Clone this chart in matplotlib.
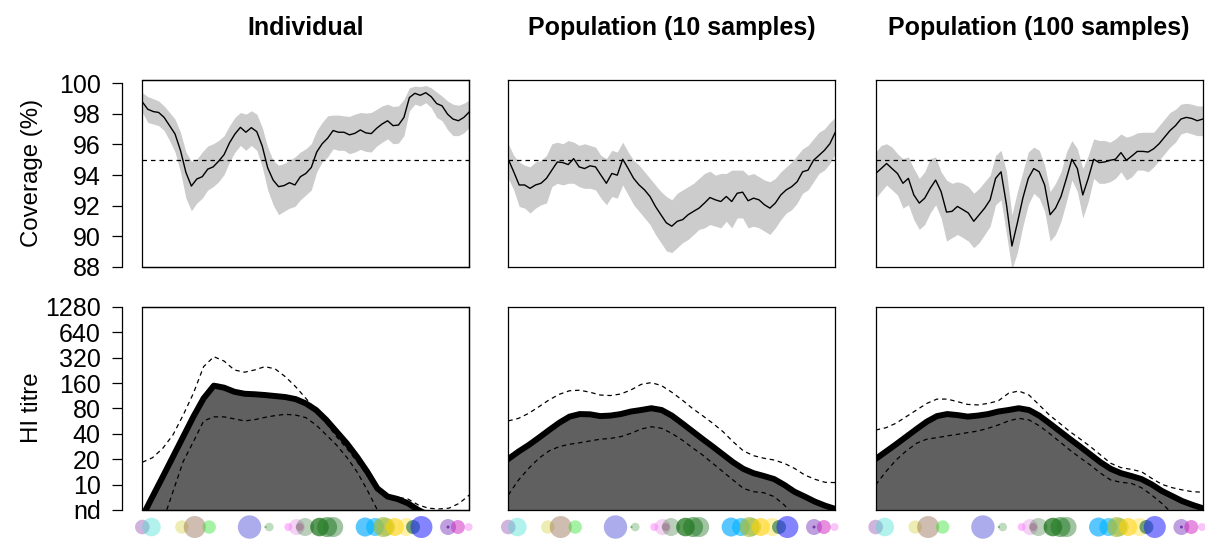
import numpy as np
import matplotlib
matplotlib.use("Agg")
import matplotlib.pyplot as plt
from matplotlib.patches import Rectangle
from matplotlib.colors import to_rgba
from matplotlib.transforms import blended_transform_factory

plt.rcParams['font.family'] = ['Liberation Sans', 'DejaVu Sans']

panel_titles = ['Individual', 'Population (10 samples)', 'Population (100 samples)']

# coverage (%) of the 95% intervals along the strain timeline
cov_years = np.linspace(1968, 2011, 61)

cov_ind = [98.77, 98.29, 98.14, 98.08, 97.76, 97.22, 96.68, 95.61, 94.17, 93.28,
           93.74, 93.89, 94.38, 94.53, 94.90, 95.33, 96.10, 96.68, 97.11, 96.79,
           97.09, 96.83, 95.89, 94.47, 93.67, 93.24, 93.31, 93.50, 93.35, 93.89,
           94.10, 94.49, 95.50, 96.04, 96.40, 96.90, 96.79, 96.79, 96.62, 96.72,
           96.94, 96.75, 96.70, 97.05, 97.33, 97.54, 97.22, 97.26, 97.76, 99.05,
           99.33, 99.20, 99.37, 99.11, 98.66, 98.51, 97.97, 97.65, 97.54, 97.76, 98.12]
cov_ind_hi = [99.37, 99.11, 98.98, 98.83, 98.51, 98.08, 97.65, 96.79, 95.50, 94.90,
              95.03, 95.50, 95.89, 96.04, 96.25, 96.57, 97.22, 97.76, 98.08, 97.97,
              98.19, 97.97, 97.11, 95.82, 94.96, 94.64, 94.75, 94.96, 95.18, 95.50,
              95.71, 96.04, 96.90, 97.43, 97.86, 97.91, 97.91, 97.86, 97.82, 97.97,
              98.08, 98.04, 98.08, 98.29, 98.51, 98.62, 98.47, 98.51, 98.94, 99.69,
              99.80, 99.76, 99.84, 99.69, 99.41, 99.15, 98.83, 98.62, 98.55, 98.68, 98.90]
cov_ind_lo = [98.08, 97.43, 97.33, 97.22, 96.90, 96.25, 95.50, 94.21, 92.49, 91.67,
              92.17, 92.49, 93.02, 93.24, 93.56, 94.03, 94.85, 95.50, 95.93, 95.61,
              95.93, 95.61, 94.53, 93.02, 92.06, 91.41, 91.63, 91.84, 91.95, 92.38,
              92.70, 93.02, 94.21, 94.85, 95.18, 95.71, 95.61, 95.61, 95.39, 95.50,
              95.67, 95.54, 95.50, 95.89, 96.14, 96.36, 96.04, 96.08, 96.57, 98.19,
              98.62, 98.51, 98.72, 98.40, 97.76, 97.54, 96.96, 96.57, 96.57, 96.75, 97.11]

cov_pop10 = [95.03, 94.21, 93.35, 93.35, 93.13, 93.35, 93.46, 93.78, 94.32, 94.85,
             94.81, 94.68, 95.07, 94.53, 94.42, 94.60, 94.53, 93.99, 93.46, 94.10,
             93.99, 95.03, 94.42, 93.78, 93.35, 93.03, 92.60, 91.95, 91.41, 90.88,
             90.66, 90.98, 91.09, 91.41, 91.63, 91.84, 92.17, 92.53, 92.38, 92.27,
             92.60, 92.27, 92.81, 92.88, 92.32, 92.49, 92.38, 92.06, 91.84, 92.17,
             92.70, 93.03, 93.24, 93.56, 94.21, 94.32, 94.96, 95.28, 95.61, 96.04, 96.79]
cov_pop10_hi = [96.04, 95.28, 94.85, 94.64, 94.53, 94.85, 94.96, 95.28, 96.04, 96.14,
                96.04, 96.25, 96.14, 95.93, 96.04, 95.93, 95.82, 95.28, 95.07, 95.61,
                95.50, 96.14, 95.50, 94.96, 94.64, 94.21, 93.78, 93.35, 92.92, 92.60,
                92.38, 92.81, 93.03, 93.24, 93.46, 93.78, 94.10, 94.25, 93.99, 94.10,
                94.10, 94.32, 94.32, 94.32, 93.99, 94.10, 93.89, 93.67, 93.56, 93.78,
                94.21, 94.53, 94.85, 95.28, 95.71, 95.93, 96.36, 96.79, 97.00, 97.43, 97.76]
cov_pop10_lo = [93.78, 93.03, 91.95, 91.84, 91.52, 91.84, 92.06, 92.17, 93.24, 93.46,
                93.35, 93.46, 93.46, 93.24, 93.13, 93.13, 93.03, 92.49, 92.06, 92.60,
                92.49, 93.35, 92.70, 92.06, 91.63, 91.20, 90.77, 90.12, 89.59, 89.05,
                88.94, 89.26, 89.59, 89.80, 90.12, 90.45, 90.55, 90.77, 90.66, 90.55,
                90.98, 90.55, 91.20, 91.20, 90.55, 90.66, 90.55, 90.34, 90.12, 90.55,
                91.09, 91.52, 91.74, 92.17, 92.81, 93.03, 93.56, 94.10, 94.32, 94.75, 95.39]

cov_pop100 = [94.10, 94.42, 94.75, 94.42, 94.10, 93.46, 93.78, 92.70, 92.17, 92.49,
              93.13, 93.67, 92.92, 91.58, 91.63, 91.95, 91.74, 91.52, 90.98, 91.41,
              91.84, 92.38, 93.78, 94.21, 92.06, 89.37, 90.88, 92.49, 93.78, 94.42,
              94.21, 93.35, 91.41, 91.84, 92.60, 93.78, 95.03, 94.42, 92.70, 93.78,
              95.03, 94.81, 94.85, 94.96, 95.03, 95.46, 94.96, 95.24, 95.54, 95.54,
              95.50, 95.71, 96.04, 96.47, 96.90, 97.22, 97.65, 97.76, 97.69, 97.54, 97.65]
cov_pop100_hi = [95.50, 95.93, 96.04, 95.82, 95.39, 95.07, 95.18, 94.42, 93.78, 94.21,
                 95.07, 95.18, 94.21, 93.67, 93.46, 93.56, 93.46, 93.24, 92.81, 93.13,
                 93.56, 93.99, 95.28, 95.61, 94.21, 91.41, 92.92, 94.21, 95.50, 95.82,
                 95.61, 94.64, 92.92, 93.46, 94.21, 95.50, 96.25, 95.71, 94.42, 95.28,
                 96.36, 96.25, 96.25, 96.14, 96.36, 96.68, 96.47, 96.57, 96.75, 96.79,
                 96.79, 96.79, 97.22, 97.65, 98.08, 98.29, 98.62, 98.68, 98.62, 98.51, 98.51]
cov_pop100_lo = [92.49, 92.92, 93.35, 93.03, 92.70, 91.84, 92.06, 91.09, 90.45, 90.77,
                 91.52, 92.06, 91.20, 89.69, 89.91, 90.12, 89.91, 89.69, 89.26, 89.59,
                 90.12, 90.66, 92.06, 92.38, 90.12, 87.86, 88.94, 90.66, 92.06, 92.81,
                 92.49, 91.63, 89.69, 90.12, 90.98, 92.27, 93.67, 92.92, 91.20, 92.27,
                 93.78, 93.46, 93.46, 93.56, 93.78, 94.21, 93.67, 93.89, 94.32, 94.32,
                 94.21, 94.53, 94.96, 95.39, 95.82, 96.14, 96.68, 96.79, 96.68, 96.57, 96.57]

# HI titre landscapes, log2(titre / 10): 0 = 10, -1 = nd
titre_years = np.linspace(1968, 2011, 33)

titre_ind = [-1.26, -0.47, 0.31, 1.10, 1.89, 2.68, 3.40, 3.90, 3.82, 3.66, 3.58,
             3.56, 3.53, 3.49, 3.45, 3.37, 3.20, 2.94, 2.55, 2.09, 1.63, 1.10,
             0.51, -0.15, -0.47, -0.57, -0.74, -1.00, -1.20, -1.33, -1.46, -1.59, -1.72]
titre_ind_hi = [0.88, 1.06, 1.43, 1.96, 2.74, 3.60, 4.65, 5.04, 4.87, 4.52, 4.43,
                4.52, 4.65, 4.56, 4.25, 3.86, 3.40, 2.94, 2.42, 1.89, 1.43, 0.91,
                0.38, -0.08, -0.41, -0.50, -0.57, -0.80, -0.93, -0.96, -0.93, -0.74, -0.41]
titre_ind_lo = [-3.80, -2.62, -1.46, -0.28, 0.91, 1.69, 2.51, 2.67, 2.67, 2.59, 2.51,
                2.56, 2.65, 2.72, 2.77, 2.74, 2.64, 2.35, 1.96, 1.56, 1.08, 0.51,
                -0.21, -1.00, -1.72, -2.51, -3.00, -3.30, -3.60, -3.80, -4.00, -4.10, -4.20]

titre_pop10 = [1.01, 1.30, 1.56, 1.85, 2.15, 2.44, 2.68, 2.78, 2.77, 2.70, 2.72,
               2.78, 2.88, 2.94, 3.01, 2.94, 2.72, 2.42, 2.11, 1.80, 1.50, 1.19,
               0.88, 0.62, 0.45, 0.34, 0.22, -0.01, -0.28, -0.47, -0.67, -0.83, -0.96]
titre_pop10_hi = [2.51, 2.61, 2.81, 3.07, 3.34, 3.56, 3.70, 3.72, 3.64, 3.53, 3.51,
                  3.57, 3.73, 3.95, 4.02, 3.90, 3.64, 3.34, 3.01, 2.72, 2.42, 2.09,
                  1.69, 1.33, 1.14, 1.04, 0.97, 0.84, 0.64, 0.38, 0.21, 0.09, 0.08]
titre_pop10_lo = [-0.41, 0.18, 0.64, 1.04, 1.33, 1.50, 1.59, 1.65, 1.72, 1.79, 1.82,
                  1.89, 2.02, 2.19, 2.28, 2.22, 2.02, 1.76, 1.46, 1.17, 0.84, 0.51,
                  0.18, -0.15, -0.28, -0.32, -0.47, -0.80, -1.26, -1.72, -2.18, -2.64, -3.04]

titre_pop100 = [1.01, 1.30, 1.59, 1.89, 2.19, 2.48, 2.70, 2.78, 2.74, 2.68, 2.72,
                2.78, 2.88, 2.94, 3.01, 2.94, 2.72, 2.42, 2.11, 1.80, 1.50, 1.19,
                0.88, 0.62, 0.45, 0.34, 0.22, 0.01, -0.25, -0.45, -0.65, -0.80, -0.93]
titre_pop100_hi = [2.15, 2.24, 2.42, 2.68, 2.94, 3.20, 3.37, 3.37, 3.27, 3.16, 3.14,
                   3.20, 3.30, 3.60, 3.69, 3.53, 3.14, 2.74, 2.42, 2.09, 1.80, 1.50,
                   1.17, 0.84, 0.67, 0.60, 0.51, 0.25, 0.01, -0.12, -0.21, -0.28, -0.30]
titre_pop100_lo = [-0.01, 0.51, 0.97, 1.33, 1.63, 1.79, 1.85, 1.92, 1.98, 2.05, 2.11,
                   2.22, 2.35, 2.51, 2.61, 2.55, 2.32, 2.02, 1.69, 1.36, 1.06, 0.77,
                   0.45, 0.18, 0.09, 0.05, -0.12, -0.41, -0.74, -1.13, -1.59, -2.05, -2.51]

titre_ticks = [-1, 0, 1, 2, 3, 4, 5, 6, 7]
titre_labels = ['nd', '10', '20', '40', '80', '160', '320', '640', '1280']
cov_ticks = [88, 90, 92, 94, 96, 98, 100]

# test strains placed along the timeline under the landscapes
strain_years = [1968.0, 1969.2, 1973.2, 1974.9, 1976.8, 1982.1, 1984.2, 1984.7,
                1987.2, 1988.3, 1988.7, 1989.4, 1991.3, 1992.3, 1993.1,
                1997.3, 1998.6, 1999.7, 2000.1, 2001.2, 2002.7, 2003.6, 2004.7,
                2008.2, 2008.2, 2009.5, 2010.9]
strain_radius = [7.3, 9.3, 6.7, 11.0, 6.7, 11.7, 1.2, 4.3,
                 4.0, 8.0, 4.0, 9.0, 9.3, 10.0, 10.0,
                 9.5, 9.0, 10.0, 9.0, 9.0, 9.0, 7.0, 11.0,
                 8.0, 1.5, 7.0, 4.0]
strain_colours = ['#8e44ad', '#40e0d0', '#d4d040', '#8b5a3c', '#20e020', '#3030d0', '#4c9c4c', '#4c9c4c',
                  '#ff40ff', '#e080e0', '#c040a0', '#3a7a3a', '#006400', '#1f7a1f', '#2e7d32',
                  '#00a8ff', '#00b4ff', '#9ab830', '#a8c040', '#ffd000', '#ffe040', '#107040', '#2020ff',
                  '#8040c0', '#6020a0', '#d020c0', '#f070f0']
strain_alpha = [0.4, 0.4, 0.4, 0.4, 0.4, 0.4, 0.6, 0.35,
                0.35, 0.35, 0.4, 0.35, 0.65, 0.55, 0.45,
                0.65, 0.6, 0.6, 0.5, 0.6, 0.45, 0.6, 0.55,
                0.5, 0.8, 0.5, 0.4]

coverage = [(cov_ind, cov_ind_lo, cov_ind_hi),
            (cov_pop10, cov_pop10_lo, cov_pop10_hi),
            (cov_pop100, cov_pop100_lo, cov_pop100_hi)]
titres = [(titre_ind, titre_ind_lo, titre_ind_hi),
          (titre_pop10, titre_pop10_lo, titre_pop10_hi),
          (titre_pop100, titre_pop100_lo, titre_pop100_hi)]

fig = plt.figure(figsize=(12.05, 5.4), dpi=100)
lefts = [0.1181, 0.4218, 0.7267]
width = 0.2714


def r_style_left_axis(ax, ticks, labels, lo, hi):
    # detached axis line with outward ticks, box drawn separately
    ax.spines['left'].set_position(('outward', 14.8))
    ax.spines['left'].set_bounds(lo, hi)
    ax.add_patch(Rectangle((0, 0), 1, 1, transform=ax.transAxes, fill=False,
                           lw=0.9, ec='black', clip_on=False, zorder=5))
    ax.set_yticks(ticks)
    ax.set_yticklabels(labels)
    ax.tick_params(axis='y', length=7.2, width=0.9, pad=8, labelsize=18)


for i in range(3):
    mean, lo, hi = coverage[i]
    ax = fig.add_axes([lefts[i], 0.5056, width, 0.3463])
    ax.fill_between(cov_years, lo, hi, color='#cccccc', lw=0)
    ax.plot(cov_years, mean, color='black', lw=1.0)
    ax.axhline(95, color='black', lw=0.9, dashes=(3.6, 3.2))
    ax.set_xlim(1968, 2011)
    ax.set_ylim(88, 100.2)
    ax.set_xticks([])
    for sp in ax.spines.values():
        sp.set_linewidth(0.9)
    if i == 0:
        r_style_left_axis(ax, cov_ticks, [str(t) for t in cov_ticks], 88, 100)
    else:
        ax.set_yticks([])

    fig.text(lefts[i] + width / 2, 0.948, panel_titles[i], ha='center', va='center',
             fontsize=18, fontweight='bold')

    mean, lo, hi = titres[i]
    ax = fig.add_axes([lefts[i], 0.0556, width, 0.3759])
    ax.fill_between(titre_years, mean, -6, color='#606060', lw=0)
    ax.plot(titre_years, lo, color='black', lw=0.9, dashes=(3.6, 3.0))
    ax.plot(titre_years, mean, color='black', lw=4.3, solid_joinstyle='round')
    ax.plot(titre_years, hi, color='black', lw=0.9, dashes=(3.6, 3.0))
    ax.set_xlim(1968, 2011)
    ax.set_ylim(-1, 7)
    ax.set_xticks([])
    for sp in ax.spines.values():
        sp.set_linewidth(0.9)
    if i == 0:
        r_style_left_axis(ax, titre_ticks, titre_labels, -1, 7)
    else:
        ax.set_yticks([])

    trans = blended_transform_factory(ax.transData, ax.transAxes)
    sizes = [(2 * r * 0.72) ** 2 for r in strain_radius]
    cols = [to_rgba(c, a) for c, a in zip(strain_colours, strain_alpha)]
    ax.scatter(strain_years, [-0.084] * len(strain_years), s=sizes, c=cols,
               lw=0, transform=trans, clip_on=False)

fig.text(0.0265, 1 - 173 / 540, 'Coverage (%)', rotation=90, ha='center', va='center', fontsize=17.3)
fig.text(0.0265, 1 - 408 / 540, 'HI titre', rotation=90, ha='center', va='center', fontsize=17.3)

fig.savefig('out.png', dpi=100)
